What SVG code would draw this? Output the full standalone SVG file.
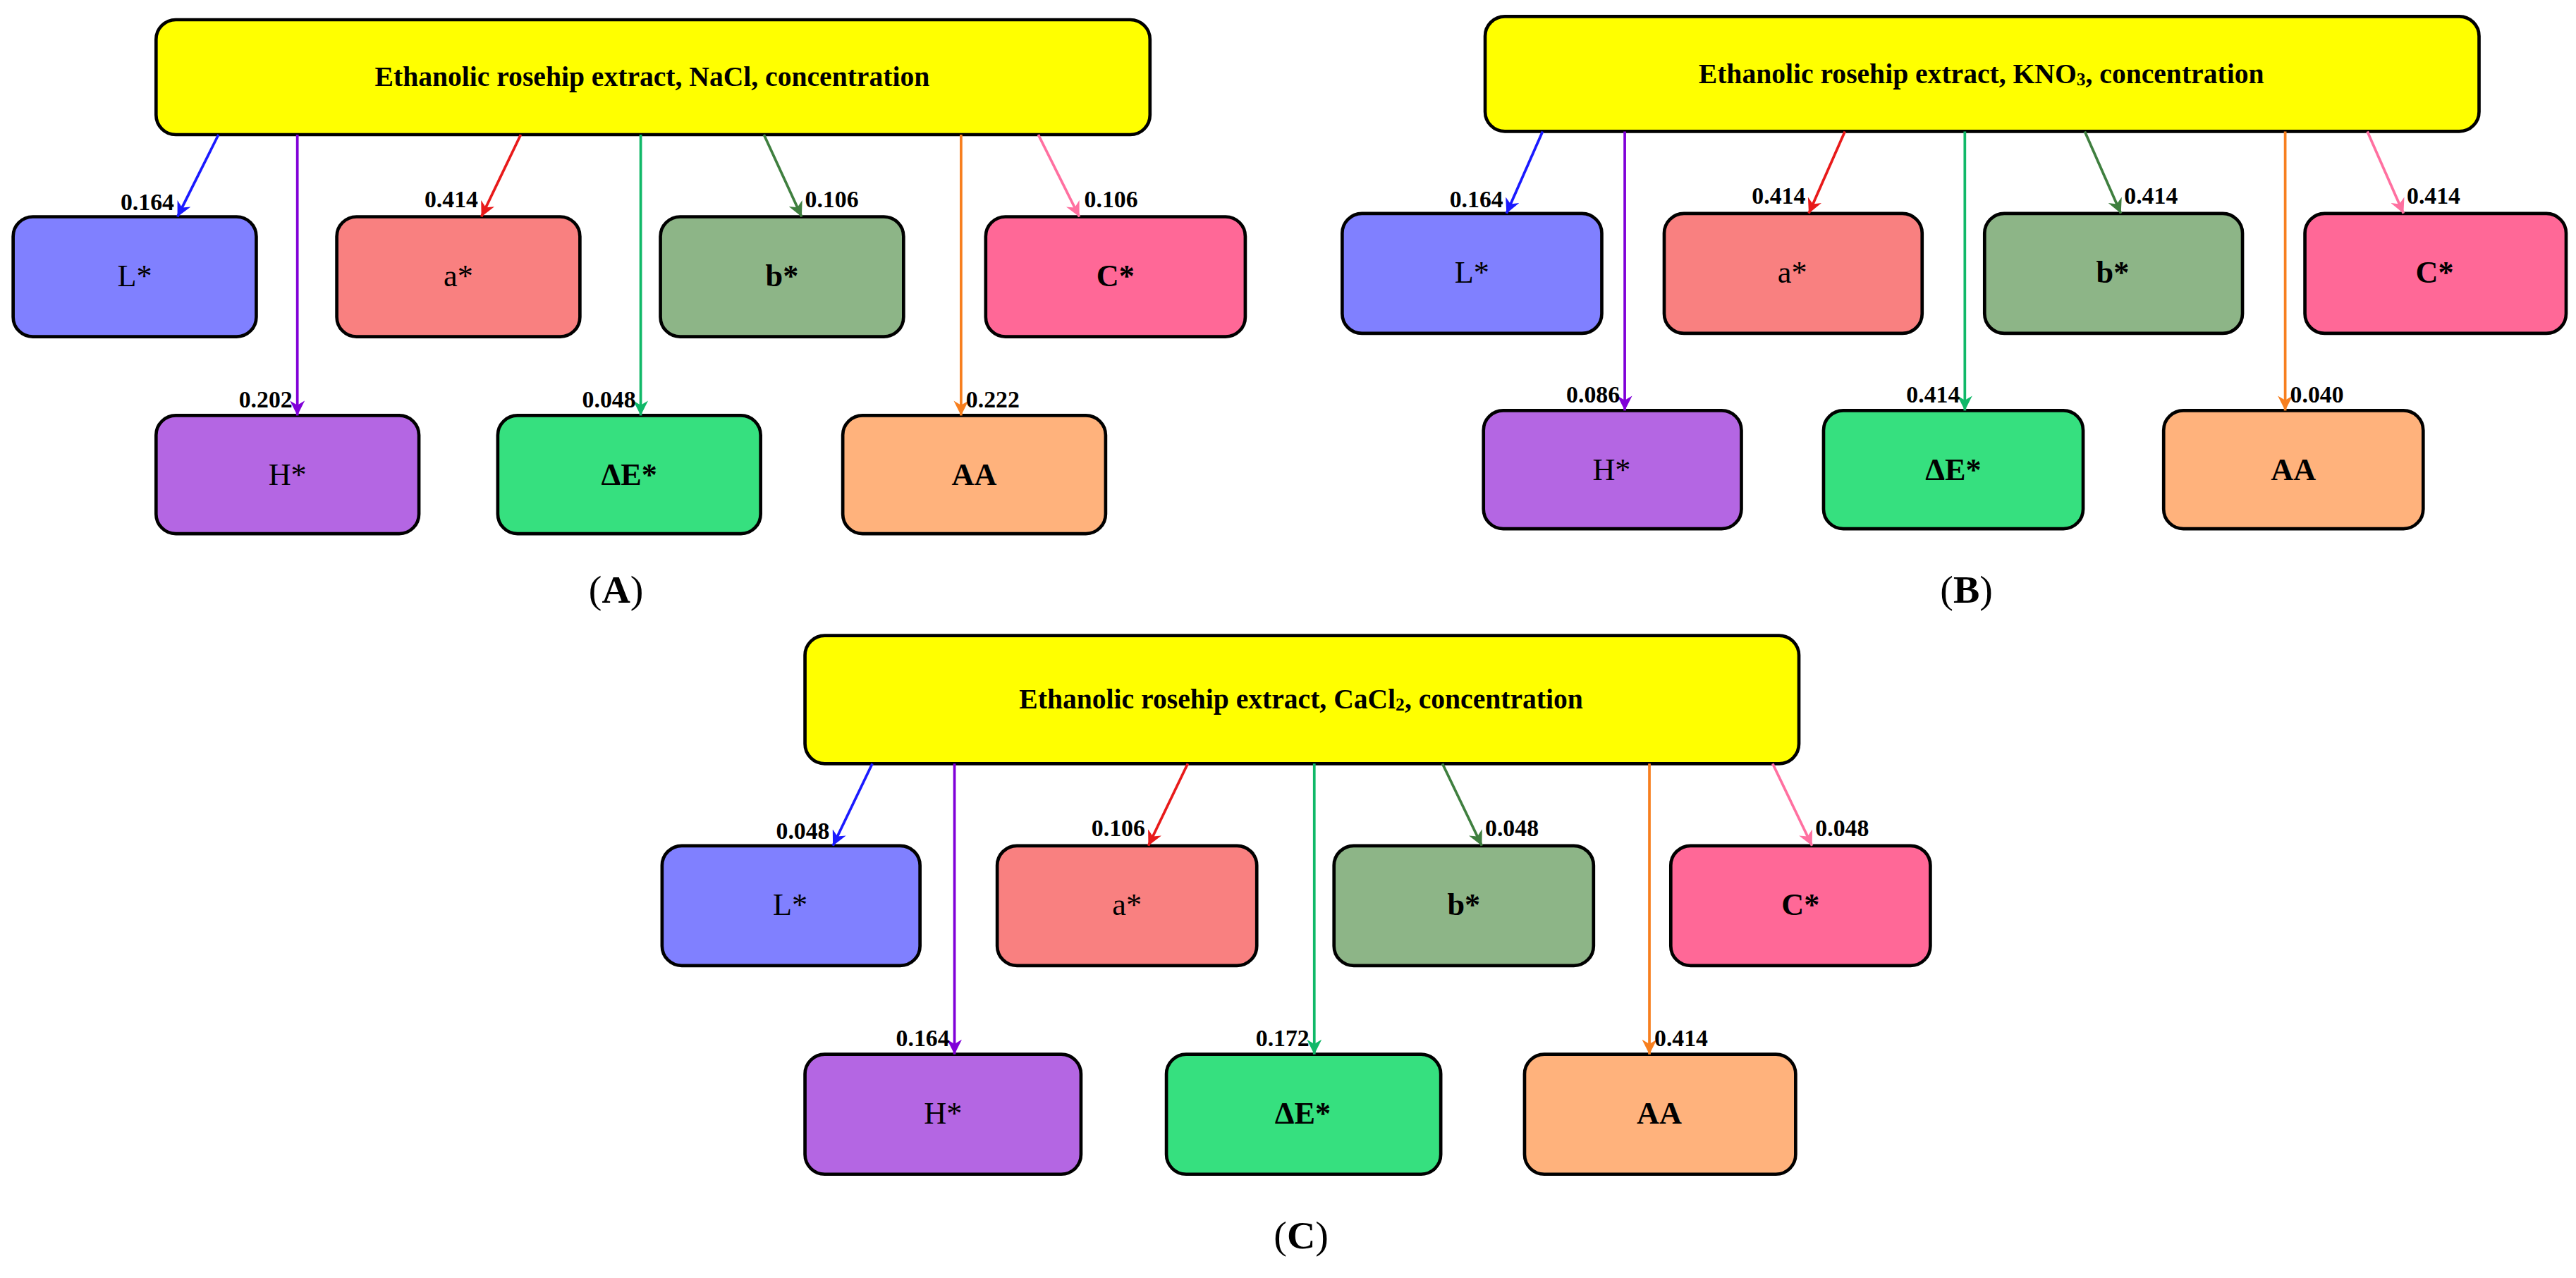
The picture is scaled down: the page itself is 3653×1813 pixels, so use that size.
<svg xmlns="http://www.w3.org/2000/svg" width="3653" height="1813" viewBox="0 0 3653 1813">
<style>
.bx{stroke:#000;stroke-width:2}
.t{font-family:"Liberation Serif",serif;font-size:19px;text-anchor:middle;dominant-baseline:central}
.tb{font-weight:bold}
.ttl{font-family:"Liberation Serif",serif;font-size:17px;font-weight:bold;text-anchor:middle;dominant-baseline:central}
.lb{font-family:"Liberation Serif",serif;font-size:14.5px;font-weight:bold}
.lr{text-anchor:end}
.pl{font-family:"Liberation Serif",serif;font-size:24px;text-anchor:middle}
.c{fill:none;stroke-width:1.6}
</style>
<defs>
<marker id="mL" viewBox="0 0 10 10" refX="10" refY="5" markerWidth="9" markerHeight="9" orient="auto" markerUnits="userSpaceOnUse"><path d="M0,0 L10,5 L0,10 L3,5 Z" fill="#1a1aff"/></marker>
<marker id="mH" viewBox="0 0 10 10" refX="10" refY="5" markerWidth="9" markerHeight="9" orient="auto" markerUnits="userSpaceOnUse"><path d="M0,0 L10,5 L0,10 L3,5 Z" fill="#8000d8"/></marker>
<marker id="ma" viewBox="0 0 10 10" refX="10" refY="5" markerWidth="9" markerHeight="9" orient="auto" markerUnits="userSpaceOnUse"><path d="M0,0 L10,5 L0,10 L3,5 Z" fill="#e81a1a"/></marker>
<marker id="mE" viewBox="0 0 10 10" refX="10" refY="5" markerWidth="9" markerHeight="9" orient="auto" markerUnits="userSpaceOnUse"><path d="M0,0 L10,5 L0,10 L3,5 Z" fill="#10b868"/></marker>
<marker id="mb" viewBox="0 0 10 10" refX="10" refY="5" markerWidth="9" markerHeight="9" orient="auto" markerUnits="userSpaceOnUse"><path d="M0,0 L10,5 L0,10 L3,5 Z" fill="#3f7f3f"/></marker>
<marker id="mA" viewBox="0 0 10 10" refX="10" refY="5" markerWidth="9" markerHeight="9" orient="auto" markerUnits="userSpaceOnUse"><path d="M0,0 L10,5 L0,10 L3,5 Z" fill="#f77f1f"/></marker>
<marker id="mC" viewBox="0 0 10 10" refX="10" refY="5" markerWidth="9" markerHeight="9" orient="auto" markerUnits="userSpaceOnUse"><path d="M0,0 L10,5 L0,10 L3,5 Z" fill="#ff70a0"/></marker>
</defs>
<rect width="3653" height="1813" fill="#fff"/>
<g transform="scale(2.3297)">

<!-- Panel A -->
<g id="panelA">
<g id="A-top"><rect class="bx" x="95" y="12" width="605" height="70" rx="12" fill="#ffff00"/><text class="ttl" x="397" y="47">Ethanolic rosehip extract, NaCl, concentration</text></g>
<g id="A-L"><rect class="bx" x="8" y="132" width="148" height="73" rx="12" fill="#8080ff"/><text class="t" x="82" y="168">L*</text></g>
<g id="A-a"><rect class="bx" x="205" y="132" width="148" height="73" rx="12" fill="#f98080"/><text class="t" x="279" y="168">a*</text></g>
<g id="A-b"><rect class="bx" x="402" y="132" width="148" height="73" rx="12" fill="#8db587"/><text class="t tb" x="476" y="168">b*</text></g>
<g id="A-C"><rect class="bx" x="600" y="132" width="158" height="73" rx="12" fill="#ff6897"/><text class="t tb" x="679" y="168">C*</text></g>
<g id="A-H"><rect class="bx" x="95" y="253" width="160" height="72" rx="12" fill="#b466e3"/><text class="t" x="175" y="289">H*</text></g>
<g id="A-E"><rect class="bx" x="303" y="253" width="160" height="72" rx="12" fill="#36e07f"/><text class="t tb" x="383" y="289">ΔE*</text></g>
<g id="A-AA"><rect class="bx" x="513" y="253" width="160" height="72" rx="12" fill="#ffb27c"/><text class="t tb" x="593" y="289">AA</text></g>
<g id="A-conn">
<line class="c" stroke="#1a1aff" x1="133" y1="82" x2="108" y2="132" marker-end="url(#mL)"/>
<line class="c" stroke="#8000d8" x1="181" y1="82" x2="181" y2="253" marker-end="url(#mH)"/>
<line class="c" stroke="#e81a1a" x1="317" y1="82" x2="293" y2="132" marker-end="url(#ma)"/>
<line class="c" stroke="#10b868" x1="390" y1="82" x2="390" y2="253" marker-end="url(#mE)"/>
<line class="c" stroke="#3f7f3f" x1="465" y1="82" x2="488" y2="132" marker-end="url(#mb)"/>
<line class="c" stroke="#f77f1f" x1="585" y1="82" x2="585" y2="253" marker-end="url(#mA)"/>
<line class="c" stroke="#ff70a0" x1="632" y1="82" x2="657" y2="132" marker-end="url(#mC)"/>
<text class="lb lr" x="106" y="128">0.164</text>
<text class="lb lr" x="178" y="248">0.202</text>
<text class="lb lr" x="291" y="126">0.414</text>
<text class="lb lr" x="387" y="248">0.048</text>
<text class="lb" x="490" y="126">0.106</text>
<text class="lb" x="588" y="248">0.222</text>
<text class="lb" x="660" y="126">0.106</text>
</g>
<text class="pl" x="375" y="367">(<tspan font-weight="bold">A</tspan>)</text>
</g>

<!-- Panel B -->
<g id="panelB" transform="translate(809,-2)">
<g id="B-top"><rect class="bx" x="95" y="12" width="605" height="70" rx="12" fill="#ffff00"/><text class="ttl" x="397" y="47">Ethanolic rosehip extract, KNO<tspan font-size="11" dy="3">3</tspan><tspan dy="-3">, concentration</tspan></text></g>
<g id="B-L"><rect class="bx" x="8" y="132" width="158" height="73" rx="12" fill="#8080ff"/><text class="t" x="87" y="168">L*</text></g>
<g id="B-a"><rect class="bx" x="204" y="132" width="157" height="73" rx="12" fill="#f98080"/><text class="t" x="282" y="168">a*</text></g>
<g id="B-b"><rect class="bx" x="399" y="132" width="157" height="73" rx="12" fill="#8db587"/><text class="t tb" x="477" y="168">b*</text></g>
<g id="B-C"><rect class="bx" x="594" y="132" width="159" height="73" rx="12" fill="#ff6897"/><text class="t tb" x="673" y="168">C*</text></g>
<g id="B-H"><rect class="bx" x="94" y="252" width="157" height="72" rx="12" fill="#b466e3"/><text class="t" x="172" y="288">H*</text></g>
<g id="B-E"><rect class="bx" x="301" y="252" width="158" height="72" rx="12" fill="#36e07f"/><text class="t tb" x="380" y="288">ΔE*</text></g>
<g id="B-AA"><rect class="bx" x="508" y="252" width="158" height="72" rx="12" fill="#ffb27c"/><text class="t tb" x="587" y="288">AA</text></g>
<g id="B-conn">
<line class="c" stroke="#1a1aff" x1="130" y1="82" x2="108" y2="132" marker-end="url(#mL)"/>
<line class="c" stroke="#8000d8" x1="180" y1="82" x2="180" y2="252" marker-end="url(#mH)"/>
<line class="c" stroke="#e81a1a" x1="314" y1="82" x2="292" y2="132" marker-end="url(#ma)"/>
<line class="c" stroke="#10b868" x1="387" y1="82" x2="387" y2="252" marker-end="url(#mE)"/>
<line class="c" stroke="#3f7f3f" x1="460" y1="82" x2="482" y2="132" marker-end="url(#mb)"/>
<line class="c" stroke="#f77f1f" x1="582" y1="82" x2="582" y2="252" marker-end="url(#mA)"/>
<line class="c" stroke="#ff70a0" x1="632" y1="82" x2="654" y2="132" marker-end="url(#mC)"/>
<text class="lb lr" x="106" y="128">0.164</text>
<text class="lb lr" x="177" y="247">0.086</text>
<text class="lb lr" x="290" y="126">0.414</text>
<text class="lb lr" x="384" y="247">0.414</text>
<text class="lb" x="484" y="126">0.414</text>
<text class="lb" x="585" y="247">0.040</text>
<text class="lb" x="656" y="126">0.414</text>
</g>
<text class="pl" x="388" y="369">(<tspan font-weight="bold">B</tspan>)</text>
</g>

<!-- Panel C -->
<g id="panelC" transform="translate(395,375)">
<g id="C-top"><rect class="bx" x="95" y="12" width="605" height="78" rx="12" fill="#ffff00"/><text class="ttl" x="397" y="51">Ethanolic rosehip extract, CaCl<tspan font-size="11" dy="3">2</tspan><tspan dy="-3">, concentration</tspan></text></g>
<g id="C-L"><rect class="bx" x="8" y="140" width="157" height="73" rx="12" fill="#8080ff"/><text class="t" x="86" y="176">L*</text></g>
<g id="C-a"><rect class="bx" x="212" y="140" width="158" height="73" rx="12" fill="#f98080"/><text class="t" x="291" y="176">a*</text></g>
<g id="C-b"><rect class="bx" x="417" y="140" width="158" height="73" rx="12" fill="#8db587"/><text class="t tb" x="496" y="176">b*</text></g>
<g id="C-C"><rect class="bx" x="622" y="140" width="158" height="73" rx="12" fill="#ff6897"/><text class="t tb" x="701" y="176">C*</text></g>
<g id="C-H"><rect class="bx" x="95" y="267" width="168" height="73" rx="12" fill="#b466e3"/><text class="t" x="179" y="303">H*</text></g>
<g id="C-E"><rect class="bx" x="315" y="267" width="167" height="73" rx="12" fill="#36e07f"/><text class="t tb" x="398" y="303">ΔE*</text></g>
<g id="C-AA"><rect class="bx" x="533" y="267" width="165" height="73" rx="12" fill="#ffb27c"/><text class="t tb" x="615" y="303">AA</text></g>
<g id="C-conn">
<line class="c" stroke="#1a1aff" x1="136" y1="90" x2="112" y2="140" marker-end="url(#mL)"/>
<line class="c" stroke="#8000d8" x1="186" y1="90" x2="186" y2="267" marker-end="url(#mH)"/>
<line class="c" stroke="#e81a1a" x1="328" y1="90" x2="304" y2="140" marker-end="url(#ma)"/>
<line class="c" stroke="#10b868" x1="405" y1="90" x2="405" y2="267" marker-end="url(#mE)"/>
<line class="c" stroke="#3f7f3f" x1="483" y1="90" x2="507" y2="140" marker-end="url(#mb)"/>
<line class="c" stroke="#f77f1f" x1="609" y1="90" x2="609" y2="267" marker-end="url(#mA)"/>
<line class="c" stroke="#ff70a0" x1="684" y1="90" x2="708" y2="140" marker-end="url(#mC)"/>
<text class="lb lr" x="110" y="136">0.048</text>
<text class="lb lr" x="183" y="262">0.164</text>
<text class="lb lr" x="302" y="134">0.106</text>
<text class="lb lr" x="402" y="262">0.172</text>
<text class="lb" x="509" y="134">0.048</text>
<text class="lb" x="612" y="262">0.414</text>
<text class="lb" x="710" y="134">0.048</text>
</g>
<text class="pl" x="397" y="385">(<tspan font-weight="bold">C</tspan>)</text>
</g>

</g>
</svg>
